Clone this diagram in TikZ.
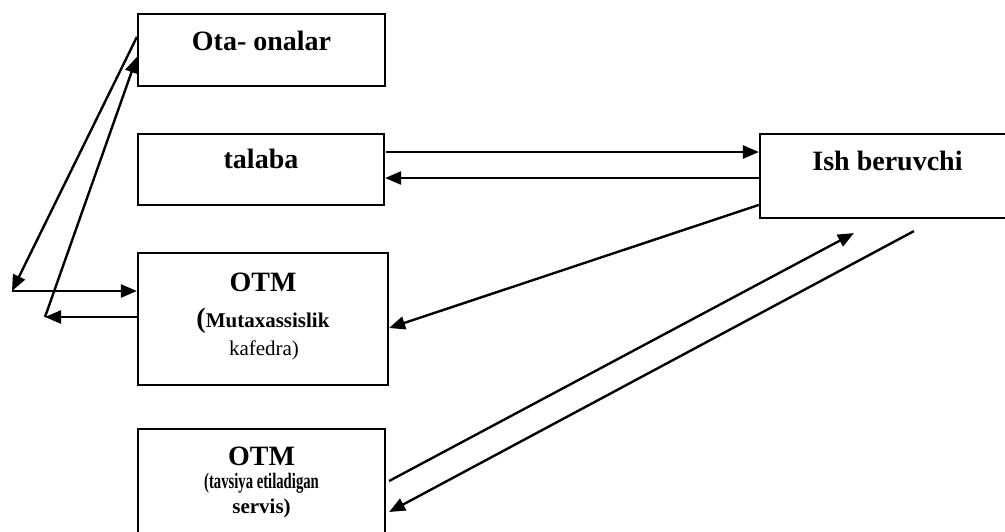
\documentclass[tikz,border=0pt]{standalone}
\usepackage{fontspec}
\setmainfont{Liberation Serif}
\usepackage{graphicx}
\usetikzlibrary{arrows.meta}

\tikzset{
  box/.style={draw,line width=1.1pt,fill=white,inner sep=0pt},
  big/.style={font=\fontsize{14}{16}\selectfont\bfseries,anchor=base,inner sep=0pt},
  small/.style={font=\fontsize{10.5}{12}\selectfont,anchor=base,inner sep=0pt},
  link/.style={line width=1.2pt,-{Triangle[length=8pt,width=6.5pt]}}
}

\begin{document}
\begin{tikzpicture}[x=0.5pt,y=-0.5pt]
  \clip (0,0) rectangle (1005,531);

  \node[box,minimum width=123.5pt,minimum height=36pt]   (ota)    at (261.5,50)  {};
  \node[box,minimum width=123pt,  minimum height=35.5pt] (talaba) at (261,169.5) {};
  \node[box,minimum width=127.5pt,minimum height=42pt]   (ish)    at (887.5,176) {};
  \node[box,minimum width=125pt,  minimum height=66pt]   (otm)    at (263,319)   {};
  \node[box,minimum width=123.5pt,minimum height=56pt]   (servis) at (261.5,485) {};

  \node[big] (otatxt)    at ([yshift=-19pt]ota.north)    {Ota- onalar};
  \node[big] (talabatxt) at ([yshift=-18pt]talaba.north) {talaba};
  \node[big] (ishtxt)    at ([yshift=-19pt]ish.north)    {Ish beruvchi};
  \node[big] (otmtxt)    at ([yshift=-20pt]otm.north)    {OTM};
  \node[small] (otmsub)  at ([yshift=-38pt]otm.north)
    {{\fontsize{14}{16}\selectfont\bfseries(}\textbf{Mutaxassislik}};
  \node[small] (otmkaf)  at ([xshift=0.5pt,yshift=-52pt]otm.north) {kafedra)};
  \node[big] (servtxt)   at ([yshift=-19pt]servis.north) {OTM};
  \node[small] (servsub) at ([yshift=-30.5pt]servis.north)
    {\scalebox{0.7}[1.05]{\textbf{(tavsiya etiladigan}}};
  \node[small] (servend) at ([yshift=-43pt]servis.north) {\textbf{servis)}};

  \coordinate (left1) at (12,291);
  \coordinate (left2) at (45,317);

  \draw[link] ([yshift=-12pt]ota.north west) -- (left1);
  \draw[link] (left1) -- (left1 -| otm.west);
  \draw[link] (otm.west |- left2) -- (left2);
  \draw[link] (left2) -- ([yshift=-22pt]ota.north west);

  \draw[link] ([xshift=0.5pt,yshift=8.75pt]talaba.east) -- ([yshift=8.75pt]talaba.east -| ish.west);
  \draw[link] ([yshift=-1pt]ish.west) -- ([yshift=-1pt]ish.west -| talaba.east);

  \draw[link] ([yshift=-36pt]ish.north west) -- ([yshift=-4.5pt]otm.east);
  \draw[link] ([xshift=1.5pt,yshift=2pt]servis.east) -- ([xshift=47.5pt,yshift=-7pt]ish.south west);
  \draw[link] ([xshift=77.5pt,yshift=-6pt]ish.south west) -- ([xshift=1.5pt,yshift=-13.5pt]servis.east);
\end{tikzpicture}
\end{document}
